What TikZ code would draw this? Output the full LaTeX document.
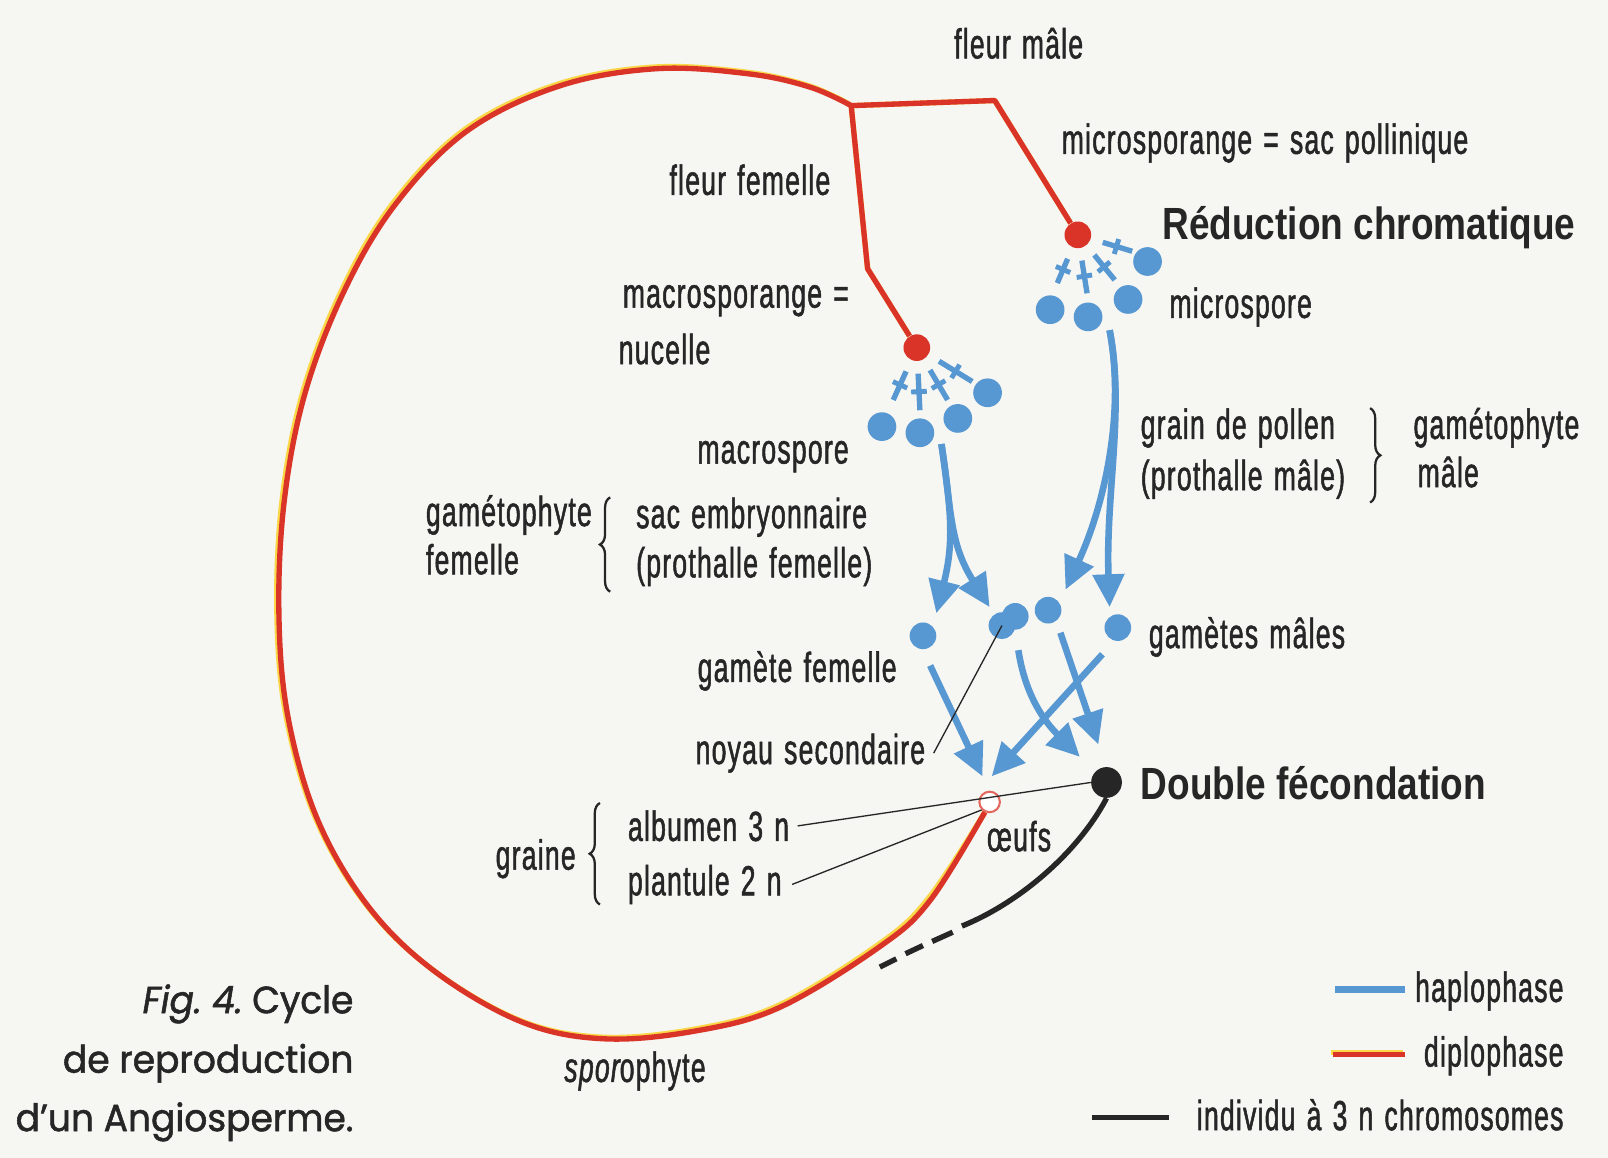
\documentclass[tikz,border=0pt]{standalone}
\usepackage{fontspec}
\setmainfont[FakeStretch=0.63,LetterSpace=3,WordSpace=1.3,FakeBold=1.2]{Liberation Sans}
\newfontfamily\boldcond[FakeStretch=0.82]{Liberation Sans}
\newfontfamily\titlefont[FakeStretch=0.95,FakeBold=1.4]{Poppins}
\usetikzlibrary{arrows.meta,decorations.pathreplacing,decorations.markings,calc}
\definecolor{hapblue}{RGB}{88,152,210}
\definecolor{dipred}{RGB}{218,52,40}
\definecolor{dipyel}{RGB}{250,215,70}
\definecolor{ink}{RGB}{38,38,38}
\definecolor{paper}{RGB}{246,246,242}
\begin{document}
\begin{tikzpicture}[x=0.5pt,y=-0.5pt,
  lbl/.style={text=ink,font=\fontsize{20.5}{24}\selectfont,inner sep=0pt},
  boldlbl/.style={text=ink,font=\boldcond\bfseries\fontsize{22}{26}\selectfont,inner sep=0pt},
  ttl/.style={text=ink,font=\titlefont\fontsize{18.5}{22}\selectfont,inner sep=0pt},
  spore/.style={circle,fill=hapblue,inner sep=0pt,minimum size=14pt},
  gamete/.style={circle,fill=hapblue,inner sep=0pt,minimum size=13pt},
  reddot/.style={circle,fill=dipred,inner sep=0pt,minimum size=13pt},
  hap/.style={draw=hapblue,line width=3.2pt},
  arr/.style={hap,-{Triangle[length=16pt,width=15pt]}},
  tickln/.style={draw=hapblue,line width=2.6pt,shorten <=6pt,postaction={decorate},
    decoration={markings,mark=at position 0.62 with {\draw[hapblue,line width=2.4pt,shorten <=0pt,shorten >=0pt] (0,-3.8pt) -- (0,3.8pt);}}},
  dip/.style={draw=dipred,line width=2.6pt,line join=round},
  dipedge/.style={draw=dipyel,line width=2.6pt,line join=round,xshift=-1pt,yshift=0.8pt},
  thinln/.style={draw=ink,line width=0.65pt},
  triln/.style={draw=ink,line width=2.6pt},
  brc/.style={draw=ink,line width=1.1pt,decorate,decoration={brace,amplitude=5pt}}
]
\fill[paper] (0,0) rectangle (1568,1129);
\useasboundingbox (0,0) rectangle (1568,1129);

% key points
\coordinate (top) at (830,103);
\coordinate (bendM) at (970,98);
\coordinate (bendF) at (846,262);

% nodes (dots)
\node[reddot] (macroR) at (894,339) {};
\node[reddot] (microR) at (1051,229) {};
\node[circle,draw=dipred!75,fill=white,line width=1pt,minimum size=10pt,inner sep=0pt] (eufs) at (965,782) {};
\node[circle,fill=ink,minimum size=15pt,inner sep=0pt] (dfd) at (1079,763) {};

% diplophase line
\def\arcpath{plot[smooth,tension=0.6] coordinates {(eufs.245) (907,878) (858,923) (761,982) (680,1005) (590,1013) (510,997) (425,948) (360,885) (310,800) (281,700) (272,600) (277,490) (297,385) (335,285) (385,200) (455,128) (545,84) (640,67) (730,72) (790,85) (830,103)}}
\draw[dipedge] \arcpath;
\draw[dipedge] (microR) -- (bendM) -- (top) -- (bendF) -- (macroR);
\draw[dip] \arcpath;
\draw[dip] (microR) -- (bendM) -- (top) -- (bendF) -- (macroR);

% spores
\node[spore] (ma1) at (860,416) {};
\node[spore] (ma2) at (897,422) {};
\node[spore] (ma3) at (934,408) {};
\node[spore] (ma4) at (963,383) {};
\node[spore] (mi1) at (1024,302) {};
\node[spore] (mi2) at (1061,309) {};
\node[spore] (mi3) at (1100,292) {};
\node[spore] (mi4) at (1119,255) {};

\draw[tickln] (macroR) -- (871,390);
\draw[tickln] (macroR) -- (897,400);
\draw[tickln] (macroR) -- (924,390);
\draw[tickln] (macroR) -- (948,372);
\draw[tickln] (microR) -- (1031,276);
\draw[tickln] (microR) -- (1060,286);
\draw[tickln] (microR) -- (1087,273);
\draw[tickln] (microR) -- (1104,245);

% gametes
\node[gamete] (gf) at (900,620) {};
\node[gamete] (ns2) at (990,601) {};
\node[gamete] (ns1) at (977,610) {};
\node[gamete] (gm1) at (1022,595) {};
\node[gamete] (gm2) at (1090,612) {};

% gametophyte arrows
\coordinate (maS) at (918,433);
\coordinate (miS) at (1082,322);
\draw[arr] (maS) .. controls (928,500) and (930,530) .. (913,598);
\draw[arr] (maS) .. controls (928,500) and (926,530) .. (965,592);
\draw[arr] (miS) .. controls (1097,400) and (1078,490) .. (1039,575);
\draw[arr] (miS) .. controls (1097,400) and (1078,480) .. (1082,592);

% fertilisation arrows
\coordinate (tipA) at (958,757);
\coordinate (tipB) at (967,757);
\coordinate (tipC) at (1053,738);
\coordinate (tipD) at (1071,726);
\draw[arr] (907,649) -- (tipA);
\draw[arr] (1075,638) -- (tipB);
\draw[arr] (993,634) .. controls (1000,680) and (1020,705) .. (tipC);
\draw[arr] (1034,617) -- (tipD);

% texts
\node[lbl,anchor=base west] (fm) at (930,57) {fleur mâle};
\node[lbl,anchor=base west] (micsp) at (1035,150) {microsporange = sac pollinique};
\node[lbl,anchor=base east] (ff) at (810,190) {fleur femelle};
\node[boldlbl,anchor=base west] (redc) at (1133,234) {Réduction chromatique};
\node[lbl,anchor=base west] (macsp) at (607,300) {macrosporange =};
\node[lbl,anchor=base west] (nuc) at (603,355) {nucelle};
\node[lbl,anchor=base west] (micro) at (1140,310) {microspore};
\node[lbl,anchor=base east] (macro) at (828,452) {macrospore};
\node[lbl,anchor=base west] (gp) at (1112,428) {grain de pollen};
\node[lbl,anchor=base west] (pm) at (1112,478) {(prothalle mâle)};
\node[lbl,anchor=base west] (gmr) at (1378,428) {gamétophyte};
\node[lbl,anchor=base west] (male) at (1382,475) {mâle};
\node[lbl,anchor=base west] (gfl) at (415,513) {gamétophyte};
\node[lbl,anchor=base west] (fem) at (415,560) {femelle};
\node[lbl,anchor=base west] (sac) at (620,515) {sac embryonnaire};
\node[lbl,anchor=base west] (pf) at (620,563) {(prothalle femelle)};
\node[lbl,anchor=base west] (gms) at (1120,632) {gamètes mâles};
\node[lbl,anchor=base west] (gfe) at (680,665) {gamète femelle};
\node[lbl,anchor=base west] (noy) at (678,745) {noyau secondaire};
\node[boldlbl,anchor=base west] (dfl) at (1112,780) {Double fécondation};
\node[lbl,anchor=base west] (gr) at (483,848) {graine};
\node[lbl,anchor=base west] (alb) at (612,820) {albumen 3 n};
\node[lbl,anchor=base west] (pl) at (612,873) {plantule 2 n};
\node[lbl,anchor=base west] (oe) at (962,830) {œufs};
\node[lbl,anchor=base west] (spo) at (550,1055) {{\itshape spor}ophyte};

% braces
\draw[brc] (595,577) -- (595,485);
\draw[brc] (585,882) -- (585,783);
\draw[brc] (1336,398) -- (1336,490);

% thin pointer lines
\draw[thinln] ([xshift=4pt]noy.east) -- (ns1.center);
\draw[thinln] (dfd.west) -- ([xshift=4pt]alb.east);
\draw[thinln] (eufs.225) -- ([xshift=5pt]pl.east);

% 3n line (solid part, then three dashes)
\coordinate (triEnd) at (938,903);
\draw[triln] (dfd.south) .. controls (1052,830) and (995,880) .. (triEnd);
\draw[triln] (929,909) -- (909,918);
\draw[triln] (900,922) -- (883,930);
\draw[triln] (874,935) -- (858,943);

% title
\node[ttl,anchor=base east] (t1) at (345,988) {{\itshape Fig.~4.}~Cycle};
\node[ttl,anchor=base east] (t2) at (345,1046) {de reproduction};
\node[ttl,anchor=base east] (t3) at (345,1103) {d’un Angiosperme.};

% legend
\node[lbl,anchor=base east] (lh) at (1525,977) {haplophase};
\node[lbl,anchor=base east] (ld) at (1525,1040) {diplophase};
\node[lbl,anchor=base east] (li) at (1525,1102) {individu à 3 n chromosomes};
\draw[hap] (1302,965) -- (1370,965);
\draw[dipedge] (1300,1028) -- (1370,1028);
\draw[dip] (1300,1028) -- (1370,1028);
\draw[triln] (1065,1090) -- (1140,1090);
\end{tikzpicture}
\end{document}
